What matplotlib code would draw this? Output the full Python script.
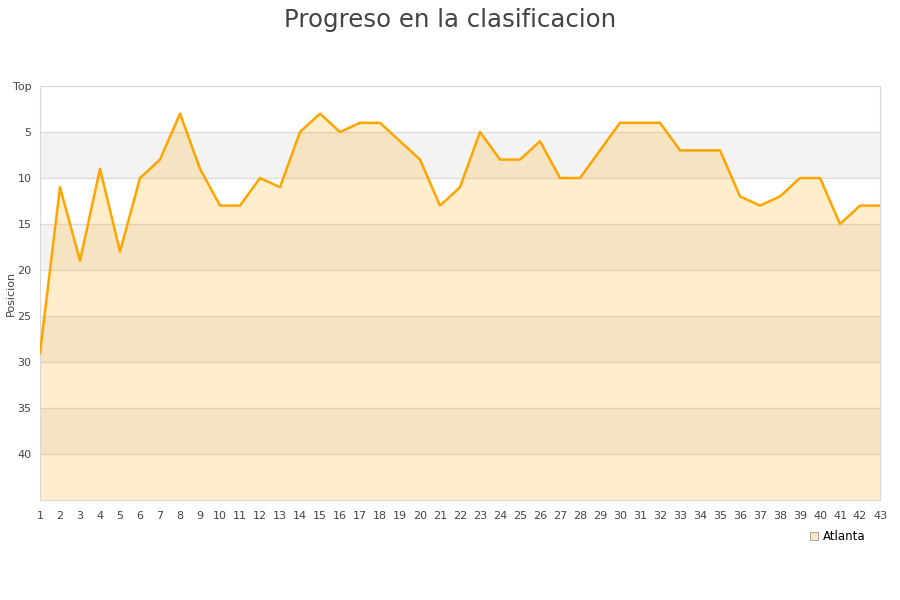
import matplotlib.pyplot as plt
from matplotlib.lines import Line2D

# datos del equipo
jornadas = list(range(1, 44))
posiciones = [29, 11, 19, 9, 18, 10, 8, 3, 9, 13,
              13, 10, 11, 5, 3, 5, 4, 4, 6, 8,
              13, 11, 5, 8, 8, 6, 10, 10, 7, 4,
              4, 4, 7, 7, 7, 12, 13, 12, 10, 10,
              15, 13, 13]
equipo = "Atlanta"
y_ticks = [0, 5, 10, 15, 20, 25, 30, 35, 40]
y_labels = ["Top", "5", "10", "15", "20", "25", "30", "35", "40"]
y_max = 45


def plot_progreso():
    fig = plt.figure(figsize=(9, 6), dpi=100)
    ax = fig.add_axes([40 / 900, 1 - 500 / 600, 840 / 900, 414 / 600])

    # bandas alternas de fondo
    for i, start in enumerate(range(0, y_max, 5)):
        if i % 2 == 1:
            ax.axhspan(start, start + 5, color="#f3f3f3", zorder=0, lw=0)
    for y in range(5, y_max, 5):
        ax.axhline(y, color="#dddddd", lw=1, zorder=1)

    ax.fill_between(jornadas, posiciones, y_max, color="#ffa500", alpha=0.2, lw=0, zorder=2)
    ax.plot(jornadas, posiciones, color="#ffa500", lw=1.8, zorder=3)

    ax.set_xlim(1, 43)
    ax.set_ylim(y_max, 0)
    ax.set_xticks(jornadas)
    ax.set_yticks(y_ticks)
    ax.set_yticklabels(y_labels)
    ax.tick_params(axis="y", length=0, labelsize=8, colors="#444444", pad=6)
    ax.tick_params(axis="x", length=0, labelsize=8, colors="#444444", pad=8)
    for s in ax.spines.values():
        s.set_color("#d8d8d8")
    ax.set_ylabel("Posicion", fontsize=8, color="#444444")
    ax.yaxis.set_label_coords(-24 / 840, 0.5)

    fig.suptitle("Progreso en la clasificacion", fontsize=17.6, color="#444444", y=0.987)

    handle = Line2D([], [], marker="s", linestyle="none", markersize=6,
                    markerfacecolor="#fde8c0", markeredgecolor="#999999", markeredgewidth=0.6)
    fig.legend([handle], [equipo], loc="center left", bbox_to_anchor=(802 / 900, 1 - 537 / 600),
               frameon=False, fontsize=8.5, handletextpad=0.3, borderpad=0, handlelength=1)

    fig.savefig("out.png")


if __name__ == "__main__":
    plot_progreso()
